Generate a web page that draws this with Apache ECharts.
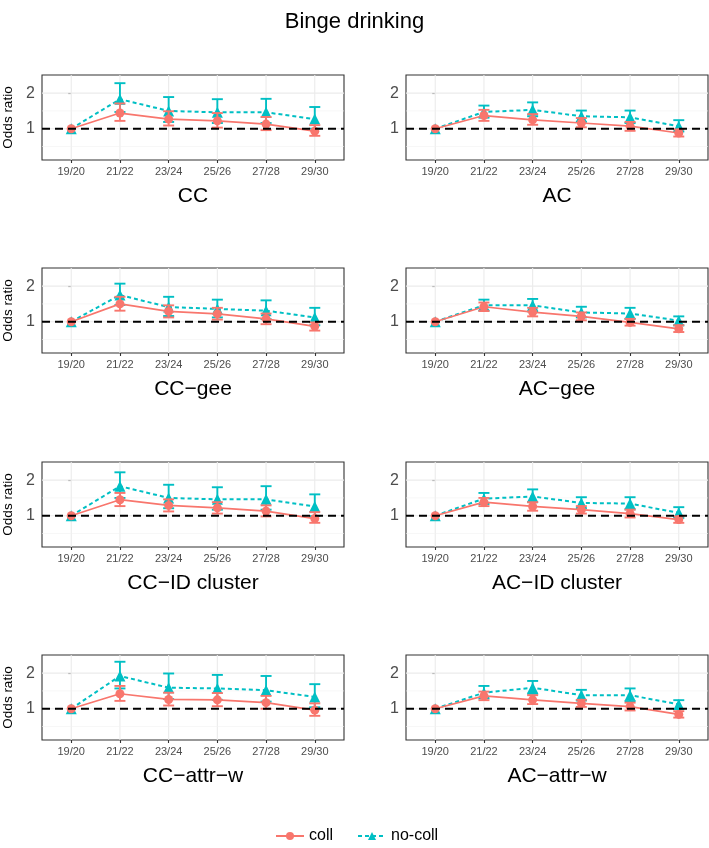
<!DOCTYPE html>
<html>
<head>
<meta charset="utf-8">
<script src="https://cdn.jsdelivr.net/npm/echarts@6/dist/echarts.min.js"></script>
<style>html,body{margin:0;padding:0;background:#fff;}#c{width:709px;height:848px;}</style>
</head>
<body>
<div id="c"></div>
<script>
const categories = ['19/20','21/22','23/24','25/26','27/28','29/30'];
const panelTitles = ['CC','AC','CC\u2212gee','AC\u2212gee','CC\u2212ID cluster','AC\u2212ID cluster','CC\u2212attr\u2212w','AC\u2212attr\u2212w'];
const yTickValues = [1, 2];
const yMinorValues = [0.5, 1.5];
const refLine = 1;

// coll / no-coll: odds ratio, lower, upper
const CC_coll    = [1, 1.44, 1.27, 1.22, 1.13, 0.93];
const CC_coll_lo = [null, 1.22, 1.09, 1.03, 0.96, 0.80];
const CC_coll_hi = [null, 1.71, 1.49, 1.44, 1.33, 1.10];
const CC_nocoll    = [1, 1.83, 1.50, 1.46, 1.46, 1.27];
const CC_nocoll_lo = [null, 1.47, 1.19, 1.16, 1.16, 1.00];
const CC_nocoll_hi = [null, 2.28, 1.89, 1.83, 1.84, 1.61];

const AC_coll    = [1, 1.37, 1.25, 1.16, 1.07, 0.88];
const AC_coll_lo = [null, 1.22, 1.11, 1.04, 0.94, 0.78];
const AC_coll_hi = [null, 1.53, 1.41, 1.30, 1.19, 0.98];
const AC_nocoll    = [1, 1.47, 1.53, 1.35, 1.32, 1.07];
const AC_nocoll_lo = [null, 1.31, 1.35, 1.19, 1.16, 0.92];
const AC_nocoll_hi = [null, 1.65, 1.74, 1.51, 1.51, 1.24];

const CCgee_coll    = [1, 1.50, 1.29, 1.22, 1.08, 0.87];
const CCgee_coll_lo = [null, 1.31, 1.12, 1.06, 0.93, 0.75];
const CCgee_coll_hi = [null, 1.70, 1.46, 1.39, 1.23, 0.98];
const CCgee_nocoll    = [1, 1.75, 1.41, 1.36, 1.31, 1.12];
const CCgee_nocoll_lo = [null, 1.47, 1.16, 1.12, 1.07, 0.90];
const CCgee_nocoll_hi = [null, 2.07, 1.70, 1.62, 1.60, 1.39];

const ACgee_coll    = [1, 1.42, 1.27, 1.15, 0.98, 0.80];
const ACgee_coll_lo = [null, 1.30, 1.15, 1.04, 0.89, 0.71];
const ACgee_coll_hi = [null, 1.54, 1.39, 1.26, 1.08, 0.90];
const ACgee_nocoll    = [1, 1.46, 1.46, 1.26, 1.23, 1.03];
const ACgee_nocoll_lo = [null, 1.31, 1.29, 1.12, 1.08, 0.90];
const ACgee_nocoll_hi = [null, 1.62, 1.64, 1.42, 1.39, 1.15];

const CCid_coll    = [1, 1.45, 1.29, 1.22, 1.13, 0.92];
const CCid_coll_lo = [null, 1.27, 1.12, 1.06, 0.98, 0.80];
const CCid_coll_hi = [null, 1.64, 1.46, 1.38, 1.29, 1.10];
const CCid_nocoll    = [1, 1.83, 1.50, 1.46, 1.46, 1.26];
const CCid_nocoll_lo = [null, 1.50, 1.21, 1.17, 1.17, 0.99];
const CCid_nocoll_hi = [null, 2.22, 1.87, 1.80, 1.83, 1.60];

const ACid_coll    = [1, 1.38, 1.26, 1.17, 1.06, 0.89];
const ACid_coll_lo = [null, 1.27, 1.14, 1.06, 0.95, 0.80];
const ACid_coll_hi = [null, 1.50, 1.38, 1.27, 1.17, 0.98];
const ACid_nocoll    = [1, 1.48, 1.54, 1.36, 1.34, 1.08];
const ACid_nocoll_lo = [null, 1.33, 1.38, 1.21, 1.18, 0.94];
const ACid_nocoll_hi = [null, 1.64, 1.74, 1.52, 1.52, 1.24];

const CCattr_coll    = [1, 1.42, 1.26, 1.25, 1.17, 0.96];
const CCattr_coll_lo = [null, 1.22, 1.09, 1.07, 1.00, 0.80];
const CCattr_coll_hi = [null, 1.64, 1.45, 1.44, 1.36, 1.15];
const CCattr_nocoll    = [1, 1.92, 1.59, 1.57, 1.52, 1.33];
const CCattr_nocoll_lo = [null, 1.57, 1.27, 1.25, 1.20, 1.04];
const CCattr_nocoll_hi = [null, 2.32, 1.99, 1.95, 1.92, 1.69];

const ACattr_coll    = [1, 1.36, 1.25, 1.15, 1.06, 0.84];
const ACattr_coll_lo = [null, 1.24, 1.13, 1.05, 0.95, 0.75];
const ACattr_coll_hi = [null, 1.48, 1.38, 1.25, 1.17, 0.93];
const ACattr_nocoll    = [1, 1.45, 1.59, 1.38, 1.38, 1.12];
const ACattr_nocoll_lo = [null, 1.29, 1.42, 1.23, 1.21, 0.99];
const ACattr_nocoll_hi = [null, 1.64, 1.78, 1.53, 1.57, 1.24];

const panels = [
  [CC_coll, CC_coll_lo, CC_coll_hi, CC_nocoll, CC_nocoll_lo, CC_nocoll_hi],
  [AC_coll, AC_coll_lo, AC_coll_hi, AC_nocoll, AC_nocoll_lo, AC_nocoll_hi],
  [CCgee_coll, CCgee_coll_lo, CCgee_coll_hi, CCgee_nocoll, CCgee_nocoll_lo, CCgee_nocoll_hi],
  [ACgee_coll, ACgee_coll_lo, ACgee_coll_hi, ACgee_nocoll, ACgee_nocoll_lo, ACgee_nocoll_hi],
  [CCid_coll, CCid_coll_lo, CCid_coll_hi, CCid_nocoll, CCid_nocoll_lo, CCid_nocoll_hi],
  [ACid_coll, ACid_coll_lo, ACid_coll_hi, ACid_nocoll, ACid_nocoll_lo, ACid_nocoll_hi],
  [CCattr_coll, CCattr_coll_lo, CCattr_coll_hi, CCattr_nocoll, CCattr_nocoll_lo, CCattr_nocoll_hi],
  [ACattr_coll, ACattr_coll_lo, ACattr_coll_hi, ACattr_nocoll, ACattr_nocoll_lo, ACattr_nocoll_hi]
];

const RED = '#F8766D', TEAL = '#00BFC4';
const FONT = 'Liberation Sans, Arial, sans-serif';
const colLeft = [42, 406];
const rowTop = [75, 268, 462, 655];
const W = 302, H = 85;
const catIdx = categories.map((c, i) => i);

const grids = [], xAxes = [], yAxes = [], series = [], graphics = [];

function errRender(color) {
  return function (params, api) {
    const x = api.value(0);
    const p1 = api.coord([x, api.value(1)]);
    const p2 = api.coord([x, api.value(2)]);
    const hw = 5.5;
    const st = { stroke: color, lineWidth: 1.9, fill: null };
    return { type: 'group', children: [
      { type: 'line', shape: { x1: p1[0], y1: p1[1], x2: p2[0], y2: p2[1] }, style: st },
      { type: 'line', shape: { x1: p1[0] - hw, y1: p1[1], x2: p1[0] + hw, y2: p1[1] }, style: st },
      { type: 'line', shape: { x1: p2[0] - hw, y1: p2[1], x2: p2[0] + hw, y2: p2[1] }, style: st }
    ]};
  };
}

panels.forEach((d, i) => {
  const col = i % 2, row = Math.floor(i / 2);
  grids.push({ left: colLeft[col], top: rowTop[row], width: W, height: H, show: true,
    backgroundColor: '#fff', borderColor: '#333333', borderWidth: 1.1 });
  xAxes.push({ type: 'value', gridIndex: i, min: -0.6, max: 5.6,
    axisLine: { show: false }, splitLine: { show: false },
    axisTick: { show: true, customValues: catIdx, length: 3, lineStyle: { color: '#333333', width: 1.1 } },
    axisLabel: { customValues: catIdx, formatter: v => categories[Math.round(v)], fontSize: 11, color: '#4D4D4D', margin: 6, fontFamily: FONT }
  });
  yAxes.push({ type: 'value', gridIndex: i, min: 0.12, max: 2.51,
    axisLine: { show: false }, splitLine: { show: false },
    axisTick: { show: true, customValues: yTickValues, length: 3, lineStyle: { color: '#333333', width: 1.1 } },
    axisLabel: { customValues: yTickValues, fontSize: 16, color: '#4D4D4D', margin: 7, fontFamily: FONT },
    name: col === 0 ? 'Odds ratio' : '', nameLocation: 'middle', nameRotate: 90, nameGap: 27,
    nameTextStyle: { fontSize: 13.5, color: '#000', fontFamily: FONT }
  });

  const gl = [];
  catIdx.forEach(v => gl.push([v, 0, 0]));
  yTickValues.forEach(v => gl.push([0, v, 1]));
  yMinorValues.forEach(v => gl.push([0, v, 2]));
  series.push({ type: 'custom', xAxisIndex: i, yAxisIndex: i, silent: true, z: 1, clip: true,
    data: gl,
    renderItem: function (params, api) {
      const cs = params.coordSys;
      const kind = api.value(2);
      if (kind === 0) {
        const x = api.coord([api.value(0), 1])[0];
        return { type: 'line', shape: { x1: x, y1: cs.y, x2: x, y2: cs.y + cs.height }, style: { stroke: '#EBEBEB', lineWidth: 1.1 } };
      }
      const y = api.coord([0, api.value(1)])[1];
      return { type: 'line', shape: { x1: cs.x, y1: y, x2: cs.x + cs.width, y2: y },
        style: { stroke: kind === 1 ? '#EBEBEB' : '#F2F2F2', lineWidth: kind === 1 ? 1.1 : 0.6 } };
    }
  });

  const [c, clo, chi, n, nlo, nhi] = d;
  const errData = (lo, hi) => catIdx.filter(k => lo[k] != null).map(k => [k, lo[k], hi[k]]);

  series.push({ type: 'custom', xAxisIndex: i, yAxisIndex: i, silent: true, z: 2,
    data: errData(nlo, nhi), renderItem: errRender(TEAL) });
  series.push({ type: 'line', name: 'no-coll', xAxisIndex: i, yAxisIndex: i, z: 3, silent: true,
    data: catIdx.map(k => [k, n[k]]), symbol: 'triangle', symbolSize: 11,
    itemStyle: { color: TEAL }, lineStyle: { color: TEAL, width: 2, type: [4, 3] } });
  series.push({ type: 'custom', xAxisIndex: i, yAxisIndex: i, silent: true, z: 4,
    data: errData(clo, chi), renderItem: errRender(RED) });
  series.push({ type: 'line', name: 'coll', xAxisIndex: i, yAxisIndex: i, z: 5, silent: true,
    data: catIdx.map(k => [k, c[k]]), symbol: 'circle', symbolSize: 9,
    itemStyle: { color: RED }, lineStyle: { color: RED, width: 1.7 } });
  series.push({ type: 'custom', xAxisIndex: i, yAxisIndex: i, silent: true, z: 6,
    data: [[0, refLine]],
    renderItem: function (params, api) {
      const cs = params.coordSys;
      const y = api.coord([0, api.value(1)])[1];
      return { type: 'line', shape: { x1: cs.x, y1: y, x2: cs.x + cs.width, y2: y },
        style: { stroke: '#000', lineWidth: 2, lineDash: [8, 5] } };
    }
  });

  graphics.push({ type: 'text', x: colLeft[col] + W / 2, y: rowTop[row] + H + 36,
    style: { text: panelTitles[i], fontSize: 21, fill: '#000', textAlign: 'center', textVerticalAlign: 'middle', fontFamily: FONT } });
});

const chart = echarts.init(document.getElementById('c'), null, { renderer: 'canvas' });
chart.setOption({
  animation: false,
  backgroundColor: '#fff',
  title: { text: 'Binge drinking', left: 'center', top: 6,
    textStyle: { fontSize: 22, fontWeight: 'normal', color: '#000', fontFamily: FONT } },
  legend: { data: ['coll', 'no-coll'], left: 270, top: 823, itemWidth: 28, itemHeight: 10, itemGap: 24,
    textStyle: { fontSize: 16, color: '#000', fontFamily: FONT } },
  grid: grids, xAxis: xAxes, yAxis: yAxes, series: series, graphic: graphics
});
</script>
</body>
</html>
